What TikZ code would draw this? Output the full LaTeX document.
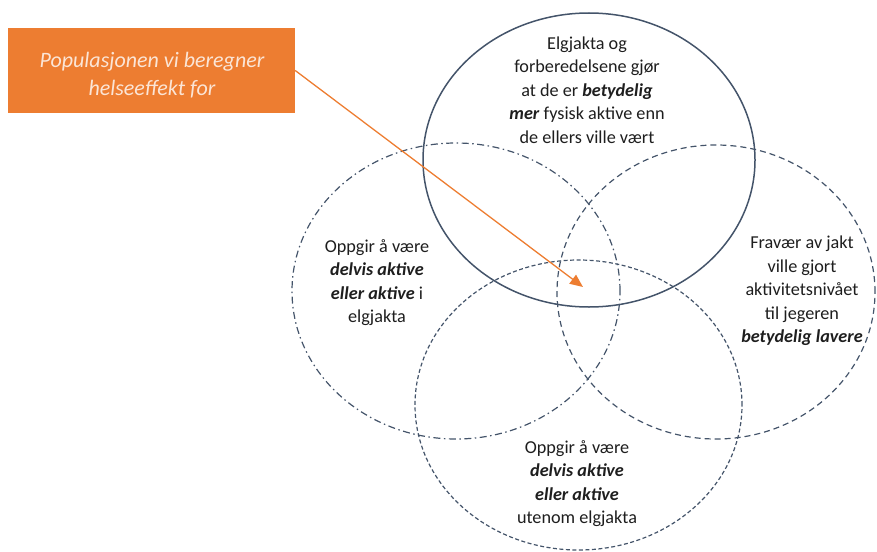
\documentclass[tikz,border=0pt]{standalone}
\usepackage{fontspec}
\setmainfont{Carlito}
\usetikzlibrary{shapes.geometric,arrows.meta}
\definecolor{linec}{HTML}{44546A}
\definecolor{textc}{HTML}{1E1E1E}
\definecolor{orangec}{HTML}{ED7D31}
\definecolor{boxtext}{HTML}{FBE5D6}
\tikzset{
  venn/.style={ellipse, draw=linec, inner sep=0pt, line width=1.2pt},
  vtext/.style={align=center, text=textc, font=\fontsize{18.2}{23.5}\selectfont}
}
\newcommand{\bit}[1]{\textbf{\textit{#1}}}
\begin{document}
\begin{tikzpicture}[x=1pt,y=-1pt]
\useasboundingbox (0,0) rectangle (877,551);
% ellipses
\node[venn, minimum width=328pt, minimum height=296pt, dash pattern=on 7pt off 3.5pt on 1.5pt off 3.5pt] (left) at (456,291) {};
\node[venn, minimum width=318pt, minimum height=294pt, dash pattern=on 6pt off 4pt] (right) at (716,292) {};
\node[venn, minimum width=327pt, minimum height=290pt, dash pattern=on 4pt off 2.5pt] (bottom) at (578.5,405) {};
\node[venn, minimum width=332pt, minimum height=294pt, line width=1.5pt] (top) at (589,160) {};
% texts
\node[vtext] (ttop) at (587,90) {Elgjakta og\\forberedelsene gjør\\at de er \bit{betydelig}\\\bit{mer} fysisk aktive enn\\de ellers ville vært};
\node[vtext] (tleft) at (377,282.5) {Oppgir å være\\\bit{delvis aktive}\\\bit{eller aktive} i\\elgjakta};
\node[vtext] (tright) at (802,291) {Fravær av jakt\\ville gjort\\aktivitetsnivået\\til jegeren\\\bit{betydelig lavere}};
\node[vtext] (tbottom) at (577,483.5) {Oppgir å være\\\bit{delvis aktive}\\\bit{eller aktive}\\utenom elgjakta};
% orange box
\node[fill=orangec, minimum width=287pt, minimum height=85pt, inner sep=0pt] (box) at (151.5,70.5) {};
\node[align=center, text=boxtext, font=\fontsize{22}{28}\selectfont\itshape] (boxlabel) at (152,75) {Populasjonen vi beregner\\helseeffekt for};
\coordinate (target) at (583,287);
\draw[orangec, line width=1.3pt, -{Triangle[length=13pt,width=11pt]}] (box.east) -- (target);
\end{tikzpicture}
\end{document}
